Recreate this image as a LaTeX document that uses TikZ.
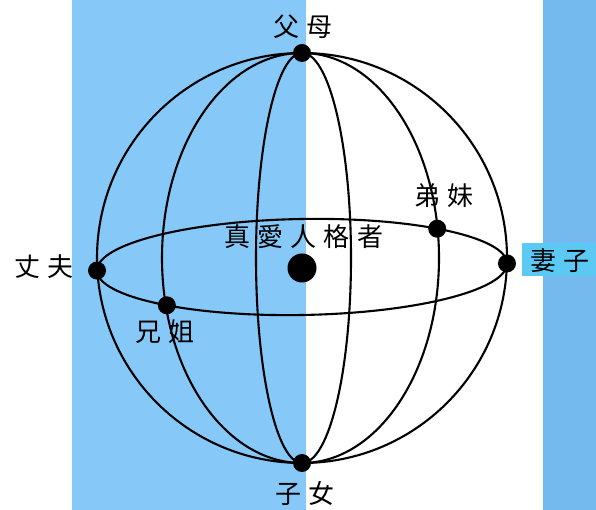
\documentclass[tikz,border=0pt]{standalone}
\usepackage{fontspec}
\usepackage{tikz}
\usetikzlibrary{positioning}
\newfontfamily\cjk[LetterSpace=27]{Noto Sans CJK TC}
\definecolor{stripeblue}{HTML}{86C9F8}
\definecolor{stripeblueR}{HTML}{74BAEE}
\definecolor{tagblue}{HTML}{5CC8F4}

\begin{document}
\begin{tikzpicture}[x=1pt, y=1pt, font=\cjk\fontsize{26}{30}\selectfont]

\tikzset{
  meridian/.style={draw, black, line width=2.1pt},
  dot/.style={circle, fill=black, inner sep=0pt, minimum size=18pt},
  coredot/.style={circle, fill=black, inner sep=0pt, minimum size=29pt},
  lbl/.style={inner sep=0pt, black}
}

% Background and stripes
\fill[white] (0,0) rectangle (596,510);
\useasboundingbox (0,0) rectangle (596,510);
\fill[stripeblue] (72,0) rectangle (306,510);
\fill[stripeblueR] (543,0) rectangle (596,510);
\fill[tagblue] (522,234) rectangle (596,267);

% Poles
\node[dot] (fumu) at (302,457) {};
\node[dot] (zinu) at (302,47) {};

% Meridians
\foreach \a in {205,140,46} {
  \draw[meridian] (fumu.center) arc[start angle=90, end angle=270, x radius=\a, y radius=205];
}
\foreach \a in {49,137,205} {
  \draw[meridian] (fumu.center) arc[start angle=90, end angle=-90, x radius=\a, y radius=205];
}

% Equator
\begin{scope}[shift={(302,243)}, rotate=1]
  \draw[meridian] (0,0) ellipse [x radius=205, y radius=48];
  \node[dot] (zhangfu) at (180:205 and 48) {};
  \node[dot] (qizi) at (0:205 and 48) {};
  \node[dot] (dimei) at (48.5:205 and 48) {};
  \node[dot] (xiongjie) at (228.5:205 and 48) {};
\end{scope}
\node[coredot] (core) at (302,242) {};

% Labels
\node[lbl] (fumuL) at (303,483) {父母};
\node[lbl] (zinuL) at (305,17) {子女};
\node[lbl] (zhangfuL) at (44,243) {丈夫};
\node[lbl] (qiziL) at (560,249) {妻子};
\node[lbl] (coreL) at (304,273) {真愛人格者};
\node[lbl] (dimeiL) at (444,314) {弟妹};
\node[lbl] (xiongjieL) at (165,178) {兄姐};

\end{tikzpicture}
\end{document}
